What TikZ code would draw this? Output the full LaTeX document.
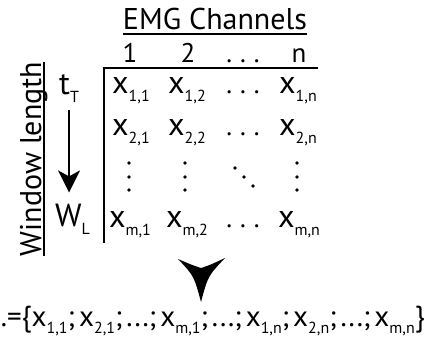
\documentclass[tikz,border=0pt]{standalone}
\usepackage{fontspec}
\setmainfont{PT Sans}
\usetikzlibrary{arrows.meta,calc}
\newcommand\sbs[1]{\raisebox{-8pt}{\fontsize{16}{16}\selectfont #1}}
\newcommand\sbb[1]{\raisebox{-7.5pt}{\fontsize{16}{16}\selectfont #1}}
\newcommand\hdts{.\hspace{8pt}.\hspace{8pt}.}
\newcommand\myspc{\hspace{4pt}}
\begin{document}
\begin{tikzpicture}[x=1pt,y=-1pt,
  every node/.style={inner sep=0pt},
  big/.style={font=\fontsize{30}{30}\selectfont},
  hdr/.style={font=\fontsize{27}{27}\selectfont, anchor=base},
  ent/.style={font=\fontsize{32}{32}\selectfont, anchor=base},
  rule/.style={line width=2pt},
  dotc/.style={fill=black}]
\useasboundingbox (0,0) rectangle (427,345);

% title
\node[big, anchor=base] (title) at (215,30) {EMG Channels};
\draw[line width=1.5pt] ($(title.base west)+(0,4)$) -- ($(title.base east)+(0,4)$);

% column headers
\node[hdr] (h1) at (130,62) {1};
\node[hdr] (h2) at (188,62) {2};
\node[hdr] (h3) at (243,62) {\hdts};
\node[hdr] (hn) at (299,62) {n};

% matrix frame
\draw[rule] (103,68) -- (318,68);
\draw[rule] (104,67) -- (104,243);

% row 1
\node[ent] (a11) at (131,93) {x\sbs{1,1}};
\node[ent] (a12) at (187,93) {x\sbs{1,2}};
\node[hdr] (a13) at (243,93) {\hdts};
\node[ent] (a1n) at (298,93) {x\sbs{1,n}};
% row 2
\node[ent] (a21) at (131,135) {x\sbs{2,1}};
\node[ent] (a22) at (187,135) {x\sbs{2,2}};
\node[hdr] (a23) at (243,135) {\hdts};
\node[ent] (a2n) at (298,135) {x\sbs{2,n}};
% vertical / diagonal dots
\foreach \yy in {163,177,190} {
  \fill[dotc] (129,\yy) circle (1.8);
  \fill[dotc] (185,\yy) circle (1.8);
  \fill[dotc] (297,\yy) circle (1.8);
}
\fill[dotc] (235,168) circle (1.8);
\fill[dotc] (244,177) circle (1.8);
\fill[dotc] (253,186) circle (1.8);
% row m
\node[ent] (am1) at (130,227) {x\sbs{m,1}};
\node[ent] (am2) at (187,227) {x\sbs{m,2}};
\node[hdr] (am3) at (243,227) {\hdts};
\node[ent] (amn) at (299,227) {x\sbs{m,n}};

% window length
\node[big, rotate=90, anchor=base] (wlen) at (41,159) {Window length};
\draw[line width=1.5pt] ($(wlen.base west)+(3,0)$) -- ($(wlen.base east)+(3,0)$);

\node[ent, anchor=base west] (tT) at (59,94) {t\sbs{T}};
\node[ent, anchor=base west] (wL) at (55,226) {W\sbs{L}};
\draw[line width=2pt, -{Stealth[length=22pt,width=22pt,inset=6pt]}, shorten <=8pt, shorten >=11pt]
  (tT.south) -- (tT.south |- wL.north);

% big arrowhead
\fill (178,259) .. controls (192,265) .. (201,268) .. controls (210,265) .. (225,258)
  .. controls (208,276) .. (201,302) .. controls (194,276) .. (178,259) -- cycle;

% vector
\node[font=\fontsize{29}{29}\selectfont, anchor=base east] (vec) at (425,326) {.=\{x\sbb{1,1};\myspc x\sbb{2,1};\myspc ...;\myspc x\sbb{m,1};\myspc ...;\myspc x\sbb{1,n};\myspc x\sbb{2,n};\myspc ...;\myspc x\sbb{m,n}\}};
\end{tikzpicture}
\end{document}
